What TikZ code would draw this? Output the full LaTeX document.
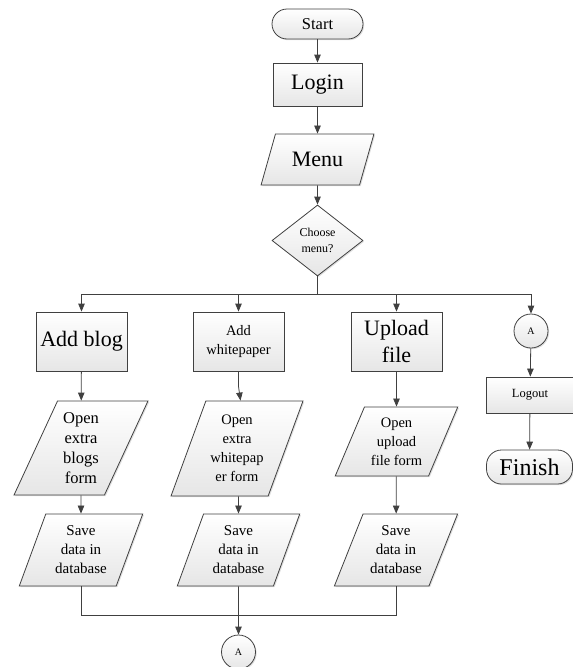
\documentclass[tikz,border=0pt]{standalone}
\usepackage{fontspec}
\setmainfont{Liberation Serif}
\usetikzlibrary{shapes.geometric,arrows.meta,shadows}

\definecolor{edge}{HTML}{404040}
\definecolor{fillbot}{HTML}{E6E6E6}

\tikzset{
  base/.style={draw=edge, line width=0.8pt, top color=white, bottom color=fillbot,
    drop shadow={shadow xshift=1.2pt, shadow yshift=-1.2pt, opacity=0.25},
    inner sep=0pt, align=center, text=black},
  procbox/.style={base, rectangle},
  termbox/.style={base, rectangle, rounded corners=15pt},
  iobox/.style={base, trapezium, trapezium stretches=true,
    trapezium left angle=#1, trapezium right angle=180-#1},
  decbox/.style={base, diamond},
  connbox/.style={base, circle, minimum size=34pt, font=\fontsize{10}{12}\selectfont},
  flow/.style={draw=edge, line width=0.8pt, -{Triangle[length=8pt,width=6.5pt]}},
  wire/.style={draw=edge, line width=0.8pt},
  big/.style={font=\fontsize{22}{27}\selectfont},
  mid/.style={font=\fontsize{15}{19}\selectfont},
}

\begin{document}
\begin{tikzpicture}[x=1pt, y=-1pt]
\useasboundingbox (0,0) rectangle (573,667);

% main trunk
\node[termbox, minimum width=91pt, minimum height=30pt, font=\fontsize{16.5}{20}\selectfont] (start) at (317.5,24) {Start};
\node[procbox, big, minimum width=89pt, minimum height=43pt] (login) at (317.5,84.5) {Login};
\node[iobox=59, big, minimum width=113pt, minimum height=51pt] (menu) at (317.5,159.5) {Menu};
\node[decbox, minimum width=91pt, minimum height=71pt, font=\fontsize{12}{16}\selectfont] (choose) at (317.5,240.5) {Choose\\menu?};

% branch heads
\node[procbox, big, minimum width=91pt, minimum height=59pt] (blog) at (81.5,341.5) {Add blog};
\node[procbox, font=\fontsize{14.5}{19}\selectfont, minimum width=91pt, minimum height=59pt] (wp) at (238.5,341.5) {Add\\whitepaper};
\node[procbox, big, minimum width=91pt, minimum height=59pt] (up) at (396.5,341.5) {Upload\\file};
\node[connbox] (ain) at (531,331) {A};

% forms
\node[iobox=65, font=\fontsize{16.5}{20}\selectfont, minimum width=134pt, minimum height=94pt] (oblog) at (81,448) {Open\\extra\\blogs\\form};
\node[iobox=66, font=\fontsize{14.5}{19}\selectfont, minimum width=132pt, minimum height=95pt] (owp) at (237,448.5) {Open\\extra\\whitepap\\er form};
\node[iobox=64, font=\fontsize{14.5}{19}\selectfont, minimum width=123pt, minimum height=69pt] (oup) at (396.5,441.5) {Open\\upload\\file form};

% saving
\node[iobox=68, mid, minimum width=124pt, minimum height=72pt] (sblog) at (81,550) {Save\\data in\\database};
\node[iobox=68, mid, minimum width=123pt, minimum height=72pt] (swp) at (238.5,550) {Save\\data in\\database};
\node[iobox=65, mid, minimum width=124pt, minimum height=72pt] (sup) at (396,550) {Save\\data in\\database};

% logout branch
\node[procbox, font=\fontsize{12.5}{15}\selectfont, minimum width=88pt, minimum height=36pt] (logout) at (530,395) {Logout};
\node[termbox, font=\fontsize{24}{28}\selectfont, minimum width=86pt, minimum height=34pt] (finish) at (529.5,467) {Finish};

% bottom connector
\node[connbox] (aout) at (238.5,652) {A};

% bus and bend points
\coordinate (topbus) at (317.5,294);
\coordinate (botbus) at (238.5,615);
\coordinate (wpkink) at (240.5,0);

\draw[flow] (start) -- (login);
\draw[flow] (login) -- (menu);
\draw[flow] (menu) -- (choose);
\draw[wire] (choose.south) -- (topbus);
\draw[flow] (topbus) -| (blog.north);
\draw[flow] (topbus) -| (wp.north);
\draw[flow] (topbus) -| (up.north);
\draw[flow] (topbus) -| (ain.north);

\draw[flow] (blog) -- (oblog);
\draw[flow] (wp.south) -- ++(0,15) -- (owp.north -| wpkink);
\draw[flow] (up) -- (oup);
\draw[flow] (oblog) -- (sblog);
\draw[flow] (owp.south -| swp.north) -- (swp);
\draw[flow] (oup) -- (sup);

\draw[wire] (sblog.south) |- (botbus);
\draw[wire] (sup.south) |- (botbus);
\draw[flow] (swp.south) -- (aout.north);

\draw[flow] (ain) -- (logout);
\draw[flow] (logout) -- (finish);
\end{tikzpicture}
\end{document}
